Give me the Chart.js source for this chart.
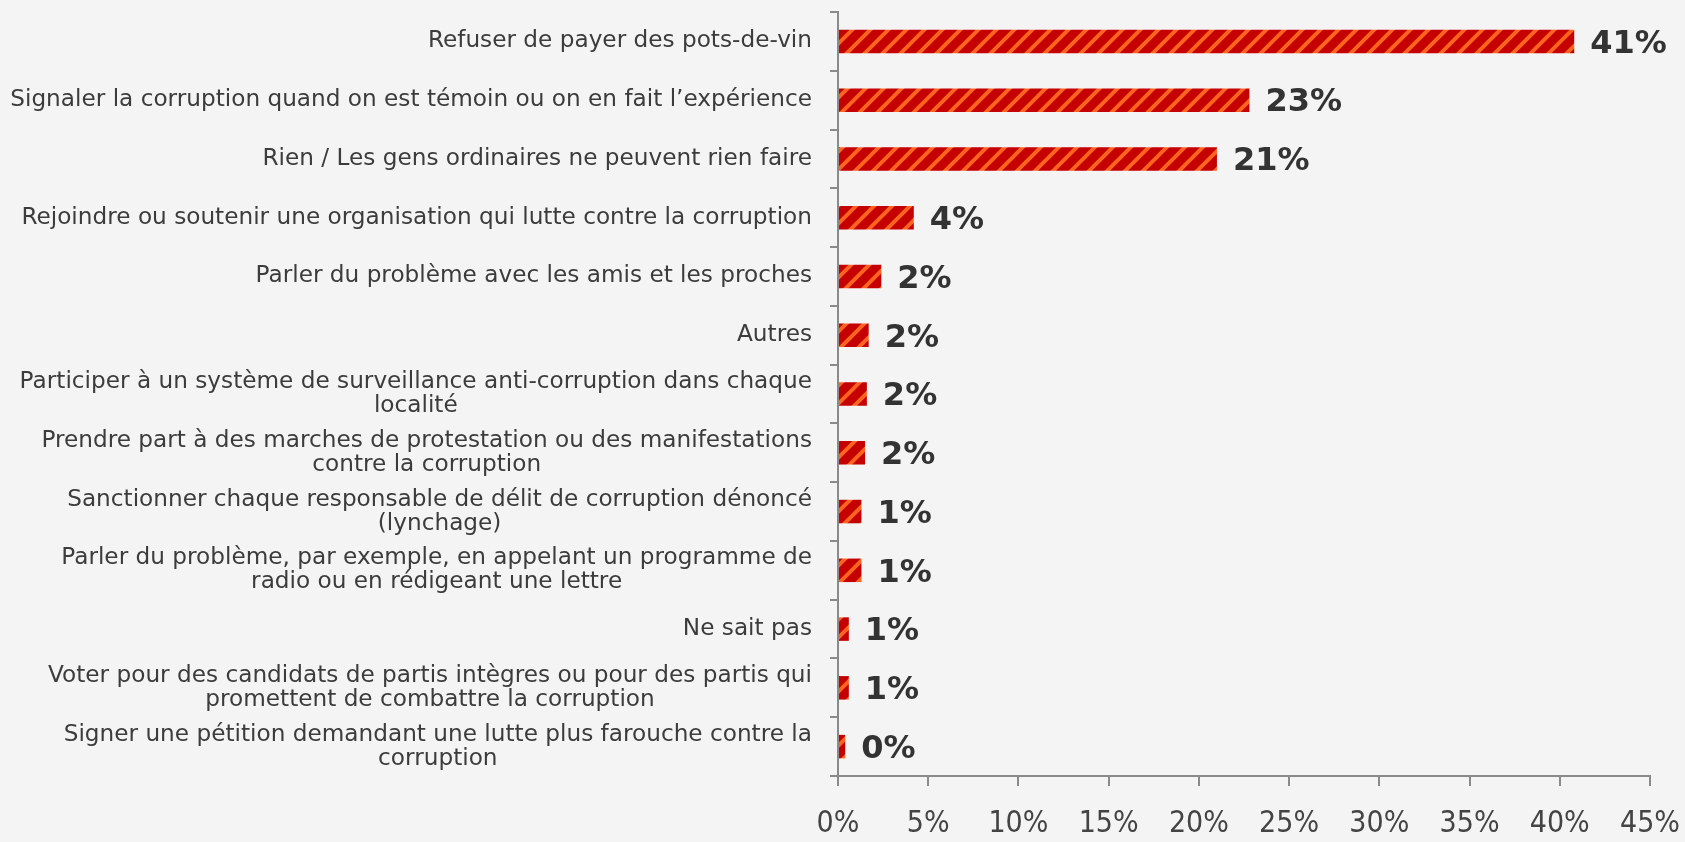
<!DOCTYPE html>
<html lang="fr">
<head>
<meta charset="utf-8">
<title>Que peuvent faire les gens ordinaires contre la corruption ?</title>
<script src="https://cdn.jsdelivr.net/npm/chart.js@4/dist/chart.umd.min.js"></script>
<style>
  html, body { margin: 0; padding: 0; background: #f4f4f4; }
  #chart { display: block; }
</style>
</head>
<body>
<canvas id="chart" width="1685" height="842"></canvas>
<script>
// --- Données ---
const categories = [
  ['Refuser de payer des pots-de-vin'],
  ['Signaler la corruption quand on est témoin ou on en fait l’expérience'],
  ['Rien / Les gens ordinaires ne peuvent rien faire'],
  ['Rejoindre ou soutenir une organisation qui lutte contre la corruption'],
  ['Parler du problème avec les amis et les proches'],
  ['Autres'],
  ['Participer à un système de surveillance anti-corruption dans chaque', 'localité'],
  ['Prendre part à des marches de protestation ou des manifestations', 'contre la corruption'],
  ['Sanctionner chaque responsable de délit de corruption dénoncé', '(lynchage)'],
  ['Parler du problème, par exemple, en appelant un programme de', 'radio ou en rédigeant une lettre'],
  ['Ne sait pas'],
  ['Voter pour des candidats de partis intègres ou pour des partis qui', 'promettent de combattre la corruption'],
  ['Signer une pétition demandant une lutte plus farouche contre la', 'corruption']
];
const values = [40.8, 22.8, 21.0, 4.2, 2.4, 1.7, 1.6, 1.5, 1.3, 1.3, 0.6, 0.6, 0.4];
const valueLabels = ['41%', '23%', '21%', '4%', '2%', '2%', '2%', '2%', '1%', '1%', '1%', '1%', '0%'];
const xTicks = [0, 5, 10, 15, 20, 25, 30, 35, 40, 45];

const AXIS_COLOR = '#8a8a8a';

// Motif de hachures rouge / orange
function makeStripes(ctx) {
  const s = 18;
  const c = document.createElement('canvas');
  c.width = s;
  c.height = s;
  const g = c.getContext('2d');
  g.fillStyle = '#c40000';
  g.fillRect(0, 0, s, s);
  g.strokeStyle = '#ff6320';
  g.lineWidth = 4;
  g.beginPath();
  g.moveTo(0, s); g.lineTo(s, 0);
  g.moveTo(-s / 2, s / 2); g.lineTo(s / 2, -s / 2);
  g.moveTo(s / 2, s * 1.5); g.lineTo(s * 1.5, s / 2);
  g.stroke();
  return ctx.createPattern(c, 'repeat');
}

// Étiquettes de l'axe vertical (lignes centrées, bloc aligné à droite)
const categoryLabels = {
  id: 'categoryLabels',
  afterDraw(chart) {
    const ctx = chart.ctx;
    const yScale = chart.scales.y;
    const right = chart.chartArea.left - 26;
    ctx.save();
    ctx.font = '23.2px "DejaVu Sans"';
    ctx.fillStyle = '#3c3c3c';
    ctx.textAlign = 'center';
    ctx.textBaseline = 'middle';
    categories.forEach((lines, i) => {
      const y = yScale.getPixelForValue(i);
      const w = Math.max(...lines.map(l => ctx.measureText(l).width));
      const cx = right - w / 2;
      lines.forEach((line, j) => {
        ctx.fillText(line, cx, y + (j - (lines.length - 1) / 2) * 24);
      });
    });
    ctx.restore();
  }
};

// Valeurs au bout des barres
const barLabels = {
  id: 'barLabels',
  afterDatasetsDraw(chart) {
    const ctx = chart.ctx;
    const meta = chart.getDatasetMeta(0);
    ctx.save();
    ctx.font = 'bold 32px "DejaVu Sans"';
    ctx.fillStyle = '#333333';
    ctx.textAlign = 'left';
    ctx.textBaseline = 'middle';
    meta.data.forEach((bar, i) => {
      ctx.fillText(valueLabels[i], bar.x + 16, bar.y + 3);
    });
    ctx.restore();
  }
};

const canvas = document.getElementById('chart');
const ctx = canvas.getContext('2d');

new Chart(ctx, {
  type: 'bar',
  data: {
    labels: categories,
    datasets: [{
      data: values,
      backgroundColor: makeStripes(ctx),
      borderWidth: 0,
      barPercentage: 0.4,
      categoryPercentage: 1
    }]
  },
  options: {
    indexAxis: 'y',
    responsive: false,
    animation: false,
    devicePixelRatio: 1,
    layout: { padding: { top: 12, right: 35, left: 0, bottom: 0 } },
    plugins: {
      legend: { display: false },
      tooltip: { enabled: false }
    },
    scales: {
      x: {
        type: 'linear',
        position: 'bottom',
        min: 0,
        max: 45,
        afterBuildTicks: scale => { scale.ticks = xTicks.map(v => ({ value: v })); },
        afterFit: scale => {
          scale.height = 66;
          scale.paddingLeft = 0;
          scale.paddingRight = 0;
        },
        ticks: {
          padding: 20,
          color: '#444444',
          font: { family: '"Liberation Sans Narrow", "DejaVu Sans Condensed", "Liberation Sans"', size: 30 },
          callback: v => v + '%'
        },
        grid: {
          drawOnChartArea: false,
          tickLength: 10,
          color: AXIS_COLOR,
          lineWidth: 2
        },
        border: { color: AXIS_COLOR, width: 2 }
      },
      y: {
        type: 'category',
        afterFit: scale => { scale.width = 838; },
        ticks: { display: false },
        grid: {
          drawOnChartArea: false,
          offset: true,
          tickLength: 8,
          color: AXIS_COLOR,
          lineWidth: 2
        },
        border: { color: AXIS_COLOR, width: 2 }
      }
    }
  },
  plugins: [barLabels, categoryLabels]
});
</script>
</body>
</html>
